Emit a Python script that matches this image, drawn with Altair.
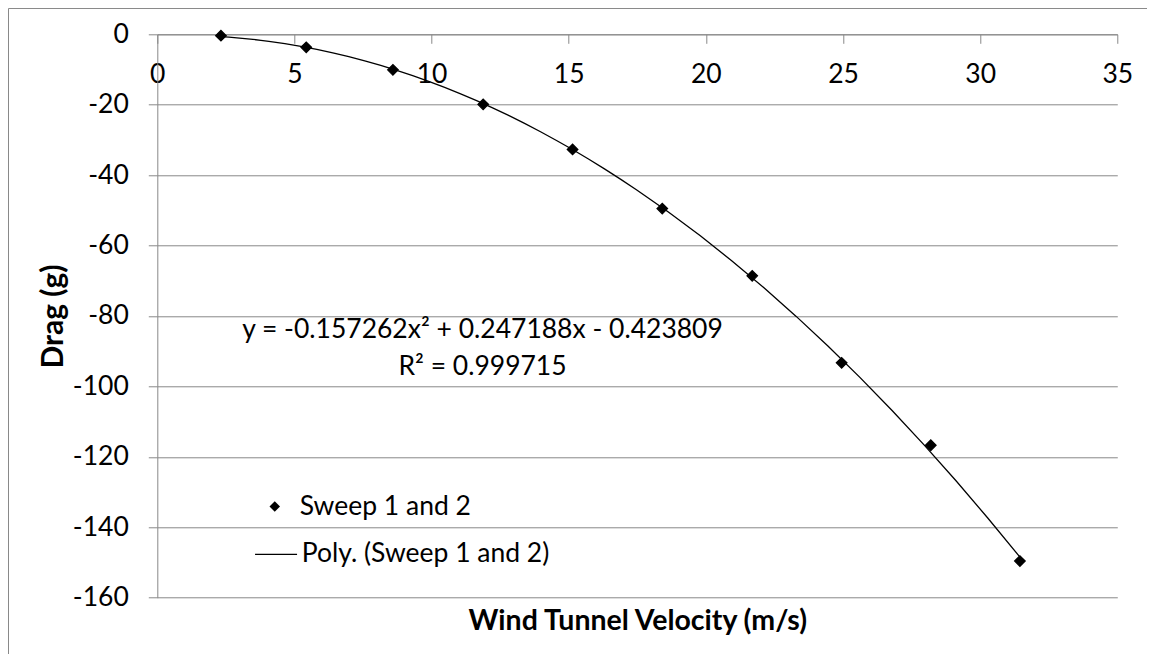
import altair as alt
import pandas as pd

# ---- data ----
velocity = [2.32, 5.43, 8.59, 11.88, 15.14, 18.41, 21.69, 24.95, 28.20, 31.45]
drag = [-0.4, -3.7, -10.1, -19.9, -32.7, -49.5, -68.6, -93.3, -116.7, -149.6]
series_names = ["Sweep 1 and 2", "Poly. (Sweep 1 and 2)"]
x_ticks = [0, 5, 10, 15, 20, 25, 30, 35]
y_ticks = [0, -20, -40, -60, -80, -100, -120, -140, -160]
equation_lines = ["y = -0.157262x² + 0.247188x - 0.423809", "R² = 0.999715"]
x_title = "Wind Tunnel Velocity (m/s)"
y_title = "Drag (g)"

df = pd.DataFrame({
    "velocity": velocity,
    "drag": drag,
    "series": series_names[0],
    "fit": series_names[1],
})

W, H = 960, 563.4
FONT = "Lato"
FS = 26.5
GRAY = "#898989"

x_scale = alt.Scale(domain=[0, 35], nice=False, zero=False)
y_scale = alt.Scale(domain=[-160, 0], nice=False, zero=False)

x_axis = alt.Axis(
    values=x_ticks, orient="bottom", offset=-H, grid=False,
    tickSize=9, tickColor=GRAY, domainColor=GRAY, domainWidth=1, tickWidth=1,
    labelPadding=39.7, labelBaseline="alphabetic", labelFlush=False, labelOverlap=False,
    labelFont=FONT, labelFontSize=FS, labelColor="black", labelExpr="'' + datum.value",
    title=x_title, titleX=W / 2, titleY=595.7, titleAlign="center", titleBaseline="alphabetic",
    titleFont=FONT, titleFontSize=28.5, titleFontWeight="bold", titleColor="black",
)
y_axis = alt.Axis(
    values=y_ticks, orient="left", grid=True, gridColor=GRAY, gridWidth=1,
    tickSize=9, tickColor=GRAY, domainColor=GRAY, domainWidth=1, tickWidth=1,
    labelPadding=20, labelFlush=False, labelOverlap=False,
    labelFont=FONT, labelFontSize=FS, labelColor="black", labelExpr="'' + datum.value",
    title=y_title, titleX=-94.6, titleY=H / 2, titleAngle=270, titleAlign="center",
    titleBaseline="alphabetic", titleFont=FONT, titleFontSize=30, titleFontWeight="bold",
    titleColor="black",
)

base = alt.Chart(df)

trend = base.transform_regression(
    "velocity", "drag", method="poly", order=2, groupby=["fit"]
).mark_line(strokeWidth=1.3).encode(
    x=alt.X("velocity:Q", scale=x_scale, axis=x_axis),
    y=alt.Y("drag:Q", scale=y_scale, axis=y_axis),
    color=alt.Color(
        "fit:N",
        scale=alt.Scale(domain=[series_names[1]], range=["black"]),
        legend=alt.Legend(
            orient="none", legendX=96.75, legendY=498, title=None, padding=0,
            labelFont=FONT, labelFontSize=FS, labelColor="black", labelLimit=500,
            labelOffset=3.65, symbolType="stroke", symbolSize=1764,
            symbolStrokeWidth=1.3, symbolStrokeColor="black", symbolOpacity=1,
        ),
    ),
)

points = base.mark_point(
    filled=False, color="black", fill="black", stroke="black", strokeWidth=1.3,
    size=110, opacity=1, fillOpacity=1, strokeOpacity=1
).encode(
    x=alt.X("velocity:Q", scale=x_scale, axis=x_axis),
    y=alt.Y("drag:Q", scale=y_scale, axis=y_axis),
    shape=alt.Shape(
        "series:N",
        scale=alt.Scale(domain=[series_names[0]], range=["diamond"]),
        legend=alt.Legend(
            orient="none", legendX=104.2, legendY=459, title=None, padding=0,
            labelFont=FONT, labelFontSize=FS, labelColor="black", labelLimit=500,
            labelOffset=11.7, symbolSize=110, symbolStrokeWidth=1.3,
            symbolStrokeColor="black", symbolFillColor="black", symbolOpacity=1,
        ),
    ),
)

eq1 = alt.Chart(pd.DataFrame({"t": [equation_lines[0]]})).mark_text(
    font=FONT, fontSize=FS, align="center", baseline="alphabetic", color="black"
).encode(text="t:N", x=alt.value(325.2), y=alt.value(303.4))

eq2 = alt.Chart(pd.DataFrame({"t": [equation_lines[1]]})).mark_text(
    font=FONT, fontSize=FS, align="center", baseline="alphabetic", color="black"
).encode(text="t:N", x=alt.value(325.2), y=alt.value(340.7))

frame = alt.Chart(pd.DataFrame({"f": [0]})).mark_rect(
    fillOpacity=0, stroke=GRAY, strokeWidth=1
).encode(x=alt.value(-148.8), x2=alt.value(W + 200), y=alt.value(-25.8), y2=alt.value(H + 200))

chart = alt.layer(frame, trend, points, eq1, eq2).properties(
    width=W, height=H,
    autosize=alt.AutoSizeParams(type="none"),
    padding={"left": 149.3, "top": 26.3, "right": 29.7, "bottom": 56},
).configure_view(stroke="transparent")

chart.save("out.html", embed_options={"renderer": "svg", "actions": False})
